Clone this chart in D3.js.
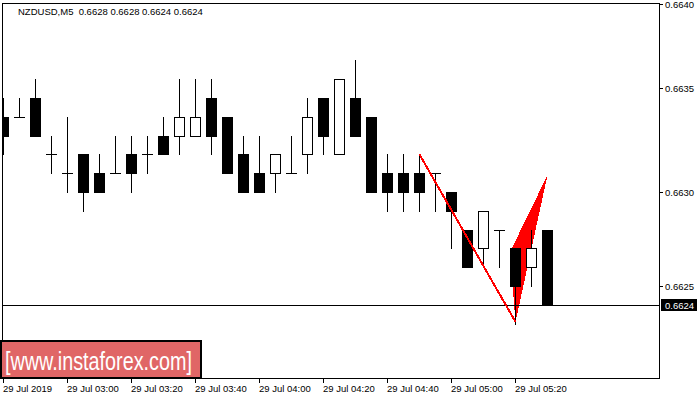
<!DOCTYPE html>
<html>
<head>
<meta charset="utf-8">
<script src="https://cdn.jsdelivr.net/npm/d3@7/dist/d3.min.js"></script>
<style>
  html, body { margin: 0; padding: 0; background: #fff; }
  svg { display: block; }
  text { font-family: "Liberation Sans", Arial, sans-serif; }
</style>
</head>
<body>
<svg id="chart" width="700" height="400"></svg>
<script>
// ---- data (NZDUSD, M5, 29 Jul 2019) ----
const times = ["02:40","02:45","02:50","02:55","03:00","03:05","03:10","03:15","03:20","03:25",
               "03:30","03:35","03:40","03:45","03:50","03:55","04:00","04:05","04:10","04:15",
               "04:20","04:25","04:30","04:35","04:40","04:45","04:50","04:55","05:00","05:05",
               "05:10","05:15","05:20","05:25","05:30"];
const openP  = [0.6634,0.6634,0.6635,0.6632,0.6631,0.6632,0.6631,0.6631,0.6632,0.6632,
                0.6633,0.6633,0.6633,0.6635,0.6634,0.6632,0.6631,0.6631,0.6631,0.6632,
                0.6635,0.6632,0.6635,0.6634,0.6631,0.6631,0.6631,0.6631,0.6630,0.6628,
                0.6627,0.6628,0.6627,0.6626,0.6628];
const highP  = [0.6635,0.6635,0.6636,0.6633,0.6634,0.6632,0.6632,0.6633,0.6633,0.6633,
                0.6634,0.6636,0.6636,0.6636,0.6634,0.6633,0.6633,0.6632,0.6633,0.6635,
                0.6635,0.6636,0.6637,0.6634,0.6632,0.6632,0.6632,0.6631,0.6630,0.6628,
                0.6629,0.6628,0.6627,0.6628,0.6628];
const lowP   = [0.6632,0.6634,0.6633,0.6631,0.6630,0.6629,0.6630,0.6631,0.6630,0.6631,
                0.6632,0.6632,0.6633,0.6632,0.6631,0.6630,0.6630,0.6630,0.6631,0.6631,
                0.6632,0.6632,0.6633,0.6630,0.6629,0.6629,0.6629,0.6629,0.6627,0.6626,
                0.6626,0.6626,0.6623,0.6625,0.6624];
const closeP = [0.6633,0.6634,0.6633,0.6632,0.6631,0.6630,0.6630,0.6631,0.6631,0.6632,
                0.6632,0.6634,0.6634,0.6633,0.6631,0.6630,0.6630,0.6632,0.6631,0.6634,
                0.6633,0.6636,0.6633,0.6630,0.6630,0.6630,0.6630,0.6631,0.6629,0.6626,
                0.6629,0.6628,0.6625,0.6627,0.6624];

const timeTickIdx    = [0,4,8,12,16,20,24,28,32];
const timeTickLabels = ["29 Jul 2019","29 Jul 03:00","29 Jul 03:20","29 Jul 03:40","29 Jul 04:00",
                        "29 Jul 04:20","29 Jul 04:40","29 Jul 05:00","29 Jul 05:20"];
const priceTicks      = [0.66400, 0.66355, 0.66300, 0.66250];
const priceTickLabels = ["0.6640","0.6635","0.6630","0.6625"];
const lastPrice = 0.6624;
const titleText = "NZDUSD,M5  0.6628 0.6628 0.6624 0.6624";

// pattern objects (bar index, price)
const poleIdx   = [26, 32];
const polePrice = [0.6632, 0.66231];
const flagIdx   = [32, 31.65, 34];
const flagPrice = [0.66231, 0.66268, 0.66309];

// ---- layout ----
const svg = d3.select("#chart");
const L = 2, R = 659, T = 3, B = 378;

const x = d3.scaleLinear().domain([0, 34]).range([3.5, 547.5]);
const y = d3.scaleLinear().domain([0.6620, 0.6640]).range([380.3, 3.7]);
const snap = v => Math.round(v);

svg.append("defs").append("clipPath").attr("id","plotclip")
  .append("rect").attr("x", L).attr("y", T).attr("width", R - L).attr("height", B - T);

const plot = svg.append("g").attr("clip-path","url(#plotclip)");

// flag triangle (background object)
plot.append("polygon")
  .attr("points", flagIdx.map((d,i) => [x(d), y(flagPrice[i])].join(",")).join(" "))
  .attr("fill", "#ff0000")
  .attr("shape-rendering", "crispEdges");

// last price line
plot.append("line")
  .attr("x1", L).attr("x2", R)
  .attr("y1", snap(y(lastPrice)) + 0.5).attr("y2", snap(y(lastPrice)) + 0.5)
  .attr("stroke", "#000").attr("stroke-width", 1);

// candles
const bars = d3.range(times.length).map(i => ({
  i, o: openP[i], h: highP[i], l: lowP[i], c: closeP[i]
}));
const g = plot.selectAll("g.bar").data(bars).join("g").attr("class","bar");

g.append("line")
  .attr("x1", d => x(d.i)).attr("x2", d => x(d.i))
  .attr("y1", d => snap(y(d.h))).attr("y2", d => snap(y(d.l)) + 1)
  .attr("stroke", "#000").attr("stroke-width", 1);

g.each(function(d) {
  const sel = d3.select(this);
  const cx = x(d.i);
  if (d.o === d.c) {
    sel.append("line")
      .attr("x1", cx - 5.5).attr("x2", cx + 5.5)
      .attr("y1", snap(y(d.c)) + 0.5).attr("y2", snap(y(d.c)) + 0.5)
      .attr("stroke", "#000").attr("stroke-width", 1);
  } else if (d.c < d.o) {
    const top = snap(y(d.o)), bot = snap(y(d.c));
    sel.append("rect")
      .attr("x", cx - 5.5).attr("width", 11)
      .attr("y", top).attr("height", bot - top + 1)
      .attr("fill", "#000");
  } else {
    const top = snap(y(d.c)), bot = snap(y(d.o));
    sel.append("rect")
      .attr("x", cx - 5).attr("width", 10)
      .attr("y", top + 0.5).attr("height", bot - top)
      .attr("fill", "#fff").attr("stroke", "#000").attr("stroke-width", 1);
  }
});

// pole line (foreground object)
plot.append("line")
  .attr("x1", x(poleIdx[0])).attr("y1", y(polePrice[0]))
  .attr("x2", x(poleIdx[1])).attr("y2", y(polePrice[1]))
  .attr("stroke", "#ff0000").attr("stroke-width", 2)
  .attr("shape-rendering", "crispEdges");

// frame
const frame = svg.append("g").attr("stroke", "#000").attr("stroke-width", 1).attr("shape-rendering","crispEdges");
frame.append("line").attr("x1", L + 0.5).attr("x2", L + 0.5).attr("y1", T).attr("y2", B + 1);
frame.append("line").attr("x1", L).attr("x2", R + 1).attr("y1", T + 0.5).attr("y2", T + 0.5);
frame.append("line").attr("x1", R + 0.5).attr("x2", R + 0.5).attr("y1", T).attr("y2", B + 1);
frame.append("line").attr("x1", L).attr("x2", R + 1).attr("y1", B + 0.5).attr("y2", B + 0.5);

// right price axis
const ya = svg.append("g");
priceTicks.forEach((p, k) => {
  const yy = snap(y(p)) + 0.5;
  ya.append("line").attr("x1", R + 1).attr("x2", R + 4).attr("y1", yy).attr("y2", yy)
    .attr("stroke", "#000").attr("stroke-width", 1);
  ya.append("text").attr("x", 665).attr("y", yy + 3.5)
    .attr("font-size", "9.5px").attr("fill", "#000").text(priceTickLabels[k]);
});
// last price tag
const ly = snap(y(lastPrice));
ya.append("rect").attr("x", 661).attr("y", ly - 6).attr("width", 36).attr("height", 12).attr("fill", "#000");
ya.append("text").attr("x", 665).attr("y", ly + 3.5)
  .attr("font-size", "9.5px").attr("fill", "#fff").text(d3.format(".4f")(lastPrice));

// bottom time axis
const xa = svg.append("g");
timeTickIdx.forEach((ti, k) => {
  const xx = x(ti);
  xa.append("line").attr("x1", xx).attr("x2", xx).attr("y1", B + 1).attr("y2", B + 5)
    .attr("stroke", "#000").attr("stroke-width", 1);
  xa.append("text").attr("x", xx - 0.5).attr("y", 392)
    .attr("font-size", "9.5px").attr("fill", "#000").text(timeTickLabels[k]);
});

// title
svg.append("text").attr("x", 18).attr("y", 15).attr("font-size", "9.5px").attr("fill", "#000")
  .attr("xml:space", "preserve").style("white-space", "pre").text(titleText);

// logo
const logo = svg.append("g");
logo.append("rect").attr("x", 1).attr("y", 341).attr("width", 200).attr("height", 37)
  .attr("fill", "#e06666").attr("stroke", "#000").attr("stroke-width", 2);
logo.append("text").attr("x", 5).attr("y", 370)
  .attr("font-size", "26px").attr("fill", "#fff")
  .attr("textLength", 187).attr("lengthAdjust", "spacingAndGlyphs")
  .text("[www.instaforex.com]");
</script>
</body>
</html>
